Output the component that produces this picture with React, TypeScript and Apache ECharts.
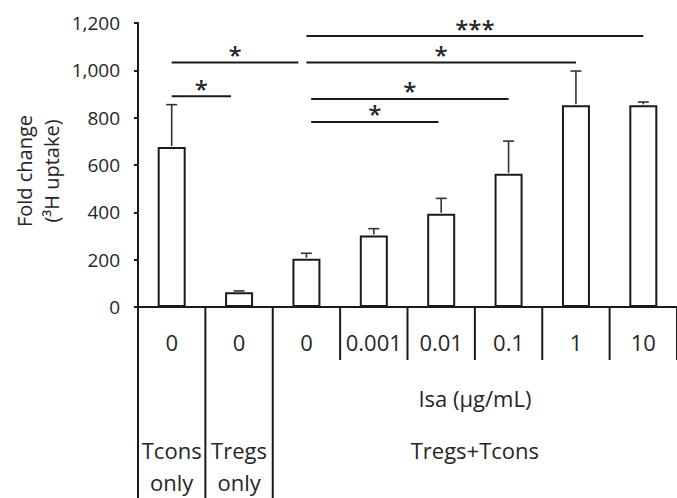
import React, { useEffect, useRef } from "react";
import * as echarts from "echarts";

// ---- data ----
const concentrations = ["0", "0", "0", "0.001", "0.01", "0.1", "1", "10"];
const groups = [
  "Tcons\nonly",
  "Tregs\nonly",
  "Tregs+Tcons",
  "Tregs+Tcons",
  "Tregs+Tcons",
  "Tregs+Tcons",
  "Tregs+Tcons",
  "Tregs+Tcons",
];
const meanValues = [676, 62, 204, 302, 394, 563, 852, 852];
const errorTops = [855, 68, 227, 331, 459, 701, 997, 866];
const yMin = 0;
const yMax = 1200;
const yInterval = 200;
const yTitle = "Fold change\n(\u00B3H uptake)";
const concentrationTitle = "Isa (\u00B5g/mL)";
// significance brackets (category index positions, level in data units)
const sigStart = [0, 0, 2, 2, 2.07, 2.07];
const sigEnd = [0.88, 1.88, 7, 6, 5, 3.96];
const sigLevel = [890, 1033, 1145, 1033, 879, 782];
const sigLabel = ["*", "*", "***", "*", "*", "*"];

const FONT = "'Open Sans', 'DejaVu Sans', sans-serif";
const INK = "#1a1a1a";
const TEXT = "#262626";

export default function App() {
  const ref = useRef<HTMLDivElement>(null);

  useEffect(() => {
    if (!ref.current) return;
    const chart = echarts.init(ref.current, undefined, { renderer: "svg" });

    const n = concentrations.length;
    // helper value axis spans [0, n]; category i is centred at i + 0.5
    const boundaries = Array.from({ length: n + 1 }, (_, k) => [k, 0, k]);
    const segments: { start: number; end: number; label: string }[] = [];
    groups.forEach((g, i) => {
      const last = segments[segments.length - 1];
      if (last && last.label === g) last.end = i;
      else segments.push({ start: i, end: i, label: g });
    });

    const option: any = {
      animation: false,
      grid: { left: 138, right: -10, top: 23, bottom: 191 },
      graphic: [
        {
          type: "text",
          x: 38,
          y: 171,
          rotation: Math.PI / 2,
          style: {
            text: yTitle,
            fontSize: 20,
            fontFamily: FONT,
            fill: TEXT,
            lineHeight: 27,
            align: "center",
            verticalAlign: "middle",
          },
        },
      ],
      xAxis: [
        {
          type: "category",
          data: concentrations,
          axisLine: { show: true, lineStyle: { color: INK, width: 2 } },
          axisTick: { show: false },
          axisLabel: { interval: 0, fontSize: 22, fontFamily: FONT, color: TEXT, margin: 24 },
          splitLine: { show: false },
        },
        { type: "value", min: 0, max: n, show: false },
      ],
      yAxis: {
        type: "value",
        min: yMin,
        max: yMax,
        interval: yInterval,
        axisLine: { show: true, lineStyle: { color: INK, width: 2 } },
        axisTick: { show: true, length: 4, lineStyle: { color: INK, width: 2 } },
        axisLabel: {
          fontSize: 19,
          fontFamily: FONT,
          color: TEXT,
          margin: 18,
          formatter: (v: number) => v.toLocaleString("en-US"),
        },
        splitLine: { show: false },
      },
      series: [
        {
          type: "bar",
          data: meanValues,
          barWidth: 28,
          itemStyle: { color: "#ffffff", borderColor: INK, borderWidth: 2 },
          z: 2,
        },
        {
          type: "custom",
          clip: false,
          z: 3,
          data: meanValues.map((v, i) => [i, v, errorTops[i]]),
          encode: { x: 0, y: [1, 2] },
          renderItem: (params: any, api: any) => {
            const i = api.value(0);
            const p0 = api.coord([i, api.value(1)]);
            const p1 = api.coord([i, api.value(2)]);
            const style = { stroke: "#333", lineWidth: 1.6 };
            return {
              type: "group",
              children: [
                { type: "line", shape: { x1: p0[0], y1: p0[1] - 1, x2: p1[0], y2: p1[1] }, style },
                { type: "line", shape: { x1: p1[0] - 5.5, y1: p1[1], x2: p1[0] + 5.5, y2: p1[1] }, style },
              ],
            };
          },
        },
        {
          type: "custom",
          clip: false,
          xAxisIndex: 1,
          z: 4,
          data: sigLevel.map((y, i) => [sigStart[i] + 0.5, y, i]),
          encode: { x: 0, y: 1 },
          renderItem: (params: any, api: any) => {
            const i = params.dataIndex;
            const a = api.coord([sigStart[i] + 0.5, sigLevel[i]]);
            const b = api.coord([sigEnd[i] + 0.5, sigLevel[i]]);
            return {
              type: "group",
              children: [
                { type: "line", shape: { x1: a[0], y1: a[1], x2: b[0], y2: b[1] }, style: { stroke: INK, lineWidth: 2 } },
                {
                  type: "text",
                  x: (a[0] + b[0]) / 2,
                  y: a[1] - 8,
                  style: {
                    text: sigLabel[i],
                    fontSize: 24,
                    fontFamily: FONT,
                    fontWeight: 600,
                    fill: TEXT,
                    align: "center",
                    verticalAlign: "middle",
                  },
                },
              ],
            };
          },
        },
        {
          type: "custom",
          clip: false,
          xAxisIndex: 1,
          z: 5,
          data: boundaries,
          encode: { x: 0, y: 1 },
          renderItem: (params: any, api: any) => {
            const k = params.dataIndex;
            const p = api.coord([k, 0]);
            const isLong = k === 0 || (k < n && groups[k] !== groups[k - 1]);
            const yEnd = isLong ? api.getHeight() : p[1] + 53;
            return {
              type: "line",
              shape: { x1: p[0], y1: p[1], x2: p[0], y2: yEnd },
              style: { stroke: INK, lineWidth: 2 },
            };
          },
        },
        {
          type: "custom",
          clip: false,
          xAxisIndex: 1,
          z: 1,
          data: segments.map((s) => [s.start, 0, s.end]),
          encode: { x: 0, y: 1 },
          renderItem: (params: any, api: any) => {
            const s = segments[params.dataIndex];
            const a = api.coord([s.start, 0]);
            const b = api.coord([s.end + 1, 0]);
            const cx = (a[0] + b[0]) / 2;
            const children: any[] = [
              {
                type: "text",
                x: cx,
                y: a[1] + 127,
                style: {
                  text: s.label,
                  fontSize: 22,
                  fontFamily: FONT,
                  fill: TEXT,
                  align: "center",
                  verticalAlign: "top",
                  lineHeight: 32,
                },
              },
            ];
            if (params.dataIndex === segments.length - 1) {
              children.push({
                type: "text",
                x: cx,
                y: a[1] + 91,
                style: { text: concentrationTitle, fontSize: 22, fontFamily: FONT, fill: TEXT, align: "center", verticalAlign: "middle" },
              });
            }
            return { type: "group", children };
          },
        },
      ],
    };

    chart.setOption(option);
    return () => chart.dispose();
  }, []);

  return <div ref={ref} style={{ position: "absolute", left: 0, top: 0, width: 677, height: 498, background: "#fff" }} />;
}
